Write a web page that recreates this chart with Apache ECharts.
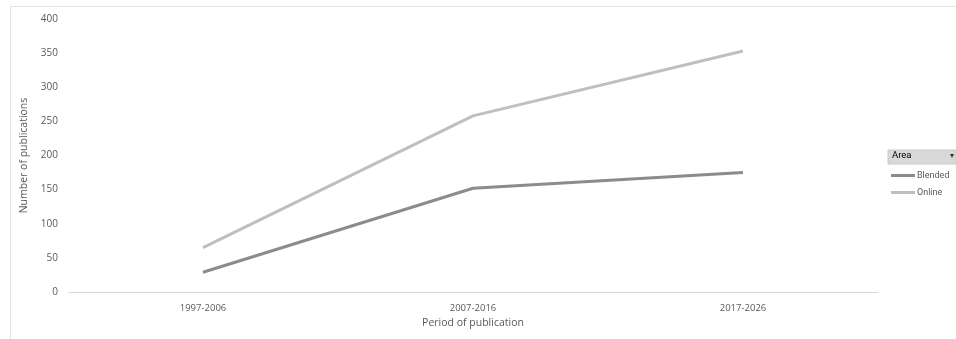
<!DOCTYPE html>
<html>
<head>
<meta charset="utf-8">
<script src="https://cdn.jsdelivr.net/npm/echarts@6/dist/echarts.min.js"></script>
<style>
  html, body { margin: 0; padding: 0; background: #ffffff; }
  #chart { width: 956px; height: 339px; }
</style>
</head>
<body>
<div id="chart"></div>
<script>
// Publication periods and counts per teaching area
const periods = ['1997-2006', '2007-2016', '2017-2026'];
const blended = [29, 152, 175];
const online = [65, 258, 353];
const yTicks = [0, 50, 100, 150, 200, 250, 300, 350, 400];

const FONT = 'Open Sans';
const LEGEND_FONT = 'Roboto';
const chart = echarts.init(document.getElementById('chart'), null, { renderer: 'canvas' });

chart.setOption({
  animation: false,
  backgroundColor: '#ffffff',
  grid: { left: 68, right: 78, top: 19, bottom: 47 },
  xAxis: {
    type: 'category',
    data: periods,
    boundaryGap: true,
    name: 'Period of publication',
    nameLocation: 'middle',
    nameGap: 25,
    nameTextStyle: { color: '#595959', fontFamily: FONT, fontSize: 10.5 },
    axisLine: { show: true, lineStyle: { color: '#d9d9d9', width: 1 } },
    axisTick: { show: false },
    splitLine: { show: false },
    axisLabel: { color: '#595959', fontFamily: FONT, fontSize: 9.5, margin: 11 }
  },
  yAxis: {
    type: 'value',
    min: yTicks[0],
    max: yTicks[yTicks.length - 1],
    interval: 50,
    name: 'Number of publications',
    nameLocation: 'middle',
    nameGap: 28,
    nameTextStyle: { color: '#595959', fontFamily: FONT, fontSize: 10.5 },
    axisLine: { show: false },
    axisTick: { show: false },
    splitLine: { show: false },
    axisLabel: { color: '#595959', fontFamily: FONT, fontSize: 10, margin: 10 }
  },
  legend: {
    orient: 'vertical',
    left: 886,
    top: 166,
    itemWidth: 24,
    itemHeight: 3,
    itemGap: 8,
    icon: 'rect',
    textStyle: { color: '#595959', fontFamily: LEGEND_FONT, fontSize: 9, padding: [0, 0, 0, -3] },
    data: ['Blended', 'Online']
  },
  series: [
    {
      name: 'Blended', type: 'line', data: blended,
      showSymbol: false, symbol: 'none',
      lineStyle: { color: '#8c8c8c', width: 3 }, itemStyle: { color: '#8c8c8c' }
    },
    {
      name: 'Online', type: 'line', data: online,
      showSymbol: false, symbol: 'none',
      lineStyle: { color: '#bfbfbf', width: 3 }, itemStyle: { color: '#bfbfbf' }
    }
  ],
  graphic: [
    // outer chart border (top and left edges visible)
    { type: 'polyline', shape: { points: [[10.5, 339], [10.5, 6.5], [956, 6.5]] },
      style: { stroke: '#e3e3e3', lineWidth: 1, fill: null }, silent: true },
    // legend header box
    { type: 'rect', shape: { x: 888, y: 150, width: 68, height: 14 },
      style: { fill: '#d9d9d9', stroke: '#c8c8c8', lineWidth: 1 }, silent: true },
    { type: 'text', left: 892, top: 151,
      style: { text: 'Area', fill: '#000000', font: '9.5px ' + LEGEND_FONT }, silent: true },
    { type: 'text', left: 950, top: 152,
      style: { text: '▾', fill: '#333333', font: '8px ' + FONT }, silent: true }
  ]
});
</script>
</body>
</html>
